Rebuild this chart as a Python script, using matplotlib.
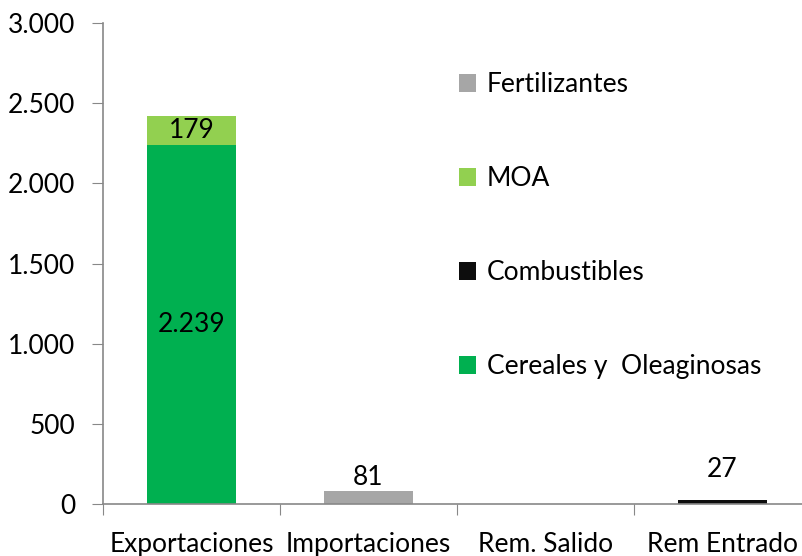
import numpy as np
import matplotlib.pyplot as plt
from matplotlib.ticker import FuncFormatter, FixedLocator

categories = ['Exportaciones', 'Importaciones', 'Rem. Salido', 'Rem Entrado']
cereales = [2239, 0, 0, 0]
combustibles = [0, 0, 0, 27]
moa = [179, 0, 0, 0]
fertilizantes = [0, 81, 0, 0]

series_names = ['Cereales y  Oleaginosas', 'Combustibles', 'MOA', 'Fertilizantes']
series_colors = ['#00B050', '#0D0D0D', '#92D050', '#A6A6A6']

plt.rcParams['font.family'] = ['Lato', 'DejaVu Sans']
fs = 19

def thousands(v, pos):
    return '{:,.0f}'.format(v).replace(',', '.')

fig = plt.figure(figsize=(8.02, 5.56), dpi=100)
ax = fig.add_axes([103/802, 1 - 504/556, 708/802, (504 - 23)/556])

x = np.arange(len(categories))
series = [cereales, combustibles, moa, fertilizantes]
bottom = np.zeros(len(categories))
bars = []
for vals, name, col in zip(series, series_names, series_colors):
    b = ax.bar(x, vals, 0.5, bottom=bottom, color=col, label=name)
    bars.append(b)
    bottom = bottom + np.array(vals)

# data labels (inside for the big segments, above for the small bars)
for i in range(len(categories)):
    if cereales[i] > 0:
        ax.text(x[i], cereales[i] / 2, thousands(cereales[i], None), ha='center', va='center', fontsize=fs)
    if moa[i] > 0:
        ax.text(x[i], cereales[i] + moa[i] / 2, thousands(moa[i], None), ha='center', va='center', fontsize=fs)
    if fertilizantes[i] > 0:
        ax.annotate(thousands(fertilizantes[i], None), (x[i], bottom[i]), xytext=(0, 1),
                    textcoords='offset points', ha='center', va='bottom', fontsize=fs)
    if combustibles[i] > 0:
        ax.annotate(thousands(combustibles[i], None), (x[i], bottom[i]), xytext=(0, 13),
                    textcoords='offset points', ha='center', va='bottom', fontsize=fs)

ax.set_xlim(-0.5, len(categories) - 0.5)
ax.set_ylim(0, 3000)
ax.set_yticks(np.arange(0, 3001, 500))
ax.yaxis.set_major_formatter(FuncFormatter(thousands))
ax.xaxis.set_major_locator(FixedLocator(np.arange(-0.5, len(categories), 1.0)))
ax.set_xticklabels([])
ax.set_xticks(x, minor=True)
ax.set_xticklabels(categories, minor=True)
ax.tick_params(axis='x', which='minor', length=0, labelsize=fs, pad=20)
ax.tick_params(axis='x', which='major', length=8, color='#888888', direction='out')
ax.tick_params(axis='y', length=8, color='#888888', labelsize=fs, pad=12)

for s in ['top', 'right']:
    ax.spines[s].set_visible(False)
for s in ['left', 'bottom']:
    ax.spines[s].set_color('#888888')
    ax.spines[s].set_linewidth(1.2)

handles = bars[::-1]
labels = series_names[::-1]
ax.legend(handles, labels, loc='upper left', bbox_to_anchor=(459/802, 1 - 72/556),
          bbox_transform=fig.transFigure, frameon=False, fontsize=fs,
          handlelength=0.65, handleheight=0.65, handletextpad=0.4, labelspacing=2.62,
          borderpad=0, borderaxespad=0)

fig.savefig('out.png', dpi=100)
